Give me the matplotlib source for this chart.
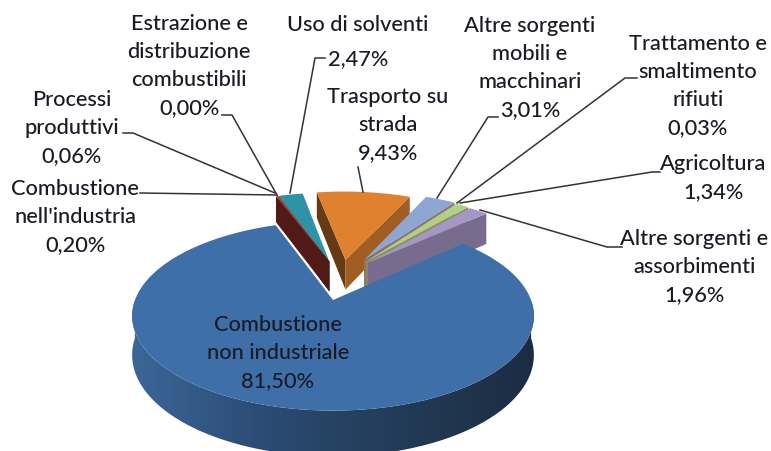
import numpy as np
import matplotlib
matplotlib.use('Agg')
import matplotlib.pyplot as plt
from matplotlib.colors import LinearSegmentedColormap
from matplotlib.patches import Polygon

plt.rcParams['font.family'] = ['Lato', 'DejaVu Sans']

# Slices, clockwise, starting from the big one
labels = ['Combustione\nnon industriale\n81,50%', "Combustione\nnell'industria\n0,20%",
          'Processi\nproduttivi\n0,06%', 'Estrazione e\ndistribuzione\ncombustibili\n0,00%',
          'Uso di solventi\n2,47%', 'Trasporto su\nstrada\n9,43%',
          'Altre sorgenti\nmobili e\nmacchinari\n3,01%', 'Trattamento e\nsmaltimento\nrifiuti\n0,03%',
          'Agricoltura\n1,34%', 'Altre sorgenti e\nassorbimenti\n1,96%']
values = [81.50, 0.20, 0.06, 0.00, 2.47, 9.43, 3.01, 0.03, 1.34, 1.96]
colors = ['#3f6fa9', '#b53a33', '#7f9a3f', '#64488c', '#2f93a8',
          '#e0812f', '#8ea6d2', '#d29a98', '#b3cf85', '#a596c4']

# Label centres (pixels) and line spacing
label_x = [278, 75, 72, 189, 358, 388, 530, 698, 713, 694]
label_y = [353, 217, 128, 66, 42, 125, 68, 86, 178, 267]
label_gap = [1.52, 1.52, 1.52, 1.52, 1.9, 1.52, 1.52, 1.52, 1.52, 1.52]

# Leader lines (pixels)
leaders = [None,
           [(140, 193), (277, 195)],
           [(123, 133), (133, 133), (275, 193)],
           [(222, 115), (232, 115), (277, 195)],
           [(325, 58), (315, 58), (290, 193)],
           [(358, 167), (363, 192)],
           [(498, 117), (488, 117), (437, 198)],
           [(637, 78), (625, 78), (457, 203)],
           [(660, 172), (652, 172), (460, 203)],
           [(622, 247), (607, 247), (480, 210)]]

# How far each slice is pulled out, in units of the radius
pull_x = [0, -0.02, -0.02, -0.02, -0.02, 0.068, 0.17, 0.17, 0.18, 0.188]
pull_y = [0, 0.45, 0.45, 0.45, 0.45, 0.47, 0.47, 0.46, 0.45, 0.433]
# Side height of each slice (pixels)
depths = [38, 32, 32, 32, 32, 32, 32, 32, 32, 36]
# Far slices first, the big one last
draw_order = [4, 3, 2, 1, 5, 6, 7, 8, 9, 0]

# Perspective of the pie plane on the picture
cx, cy = 333, 300
fx, fy = 198, 92
k = 0.168

# Shading of the outer side, left to right
side_cmap = LinearSegmentedColormap.from_list('side', ['#3b6699', '#2a4b72', '#233b57', '#1b2c42'])


def project(x, y, dz=0.0):
    s = 1 / (1 + k * y)
    return np.column_stack((cx + fx * x * s, cy - fy * y * s + dz * s))


def darker(color, f):
    return tuple(c * f for c in matplotlib.colors.to_rgb(color))


fig = plt.figure(figsize=(7.71, 4.51), dpi=100)

# Let the pie work out the angles, then draw the slices in 3D from them
pie_ax = fig.add_axes([0, 0, 0.1, 0.1])
wedges, _ = pie_ax.pie(values, startangle=43, counterclock=False)
pie_ax.set_visible(False)

ax = fig.add_axes([0, 0, 1, 1])
ax.axis('off')

for order, i in enumerate(draw_order):
    w = wedges[i]
    th = np.radians(np.linspace(w.theta1, w.theta2, 300))
    xs = np.cos(th) + pull_x[i]
    ys = np.sin(th) + pull_y[i]
    col = colors[i]
    dz = depths[i]

    # Outer side, only the part turned to the viewer
    front = np.sin(th) < 0
    if front.any():
        rim = np.vstack((project(xs[front], ys[front]), project(xs[front], ys[front], dz)[::-1]))
        rim_patch = Polygon(rim, fc='none', ec='none', zorder=order + 1)
        ax.add_patch(rim_patch)
        grad = ax.imshow(np.linspace(0, 1, 256).reshape(1, -1), cmap=side_cmap, aspect='auto',
                         extent=(rim[:, 0].min(), rim[:, 0].max(), rim[:, 1].max(), rim[:, 1].min()),
                         zorder=order + 1)
        grad.set_clip_path(rim_patch)

    # Cut sides, theta2 end is the left one
    apex_t = project(np.array([pull_x[i]]), np.array([pull_y[i]]))
    apex_b = project(np.array([pull_x[i]]), np.array([pull_y[i]]), dz)
    for j, normal, f in ((-1, th[-1] + np.pi / 2, 0.45), (0, th[0] - np.pi / 2, 0.72)):
        if np.sin(normal) < 0:
            end_t = project(xs[[j]], ys[[j]])
            end_b = project(xs[[j]], ys[[j]], dz)
            ax.add_patch(Polygon(np.vstack((apex_t, end_t, end_b, apex_b)), fc=darker(col, f), ec='none',
                                 zorder=order + 1))

    top = np.vstack((apex_t, project(xs, ys)))
    ax.add_patch(Polygon(top, fc=col, ec='none', zorder=order + 1))

# Labels and leader lines
for i in range(len(values)):
    ax.text(label_x[i], label_y[i], labels[i], ha='center', va='center', fontsize=15.7, color='#1a1a24',
            linespacing=label_gap[i], fontweight='medium', zorder=30)
    if leaders[i] is not None:
        pts = np.array(leaders[i])
        ax.plot(pts[:, 0], pts[:, 1], color='#333333', lw=1.1, zorder=25)

ax.set_xlim(0, 771)
ax.set_ylim(451, 0)
fig.savefig('out.png', dpi=100)
